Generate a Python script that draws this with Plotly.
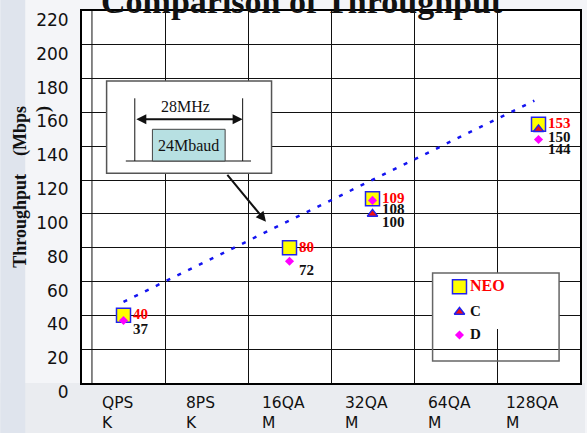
import plotly.graph_objects as go

# ---- data -----------------------------------------------------------------
categories = ["QPSK", "8PSK", "16QAM", "32QAM", "64QAM", "128QAM"]
category_labels = ["QPS<br>K", "8PS<br>K", "16QA<br>M", "32QA<br>M", "64QA<br>M", "128QA<br>M"]
y_ticks = list(range(0, 221, 20))

neo_mod = ["QPSK", "16QAM", "32QAM", "128QAM"]
neo_val = [40, 80, 109, 153]

c_mod = ["32QAM", "128QAM"]
c_val = [100, 150]

d_mod = ["QPSK", "16QAM", "32QAM", "128QAM"]
d_val = [37, 72, 108, 144]

# dotted trend guide (category position, Mbps)
trend_pos = [0.0, 4.95]
trend_val = [48, 167]

# ---- geometry ---------------------------------------------------------------
W, H = 587, 433
PL, PR, PT, PB = 82, 582, 11, 383  # plot area edges in pixels


def fx(px):
    return (px - PL) / (PR - PL)


def fy(py):
    return (PB - py) / (PB - PT)


idx = {c: i for i, c in enumerate(categories)}
SERIF = "Liberation Serif"
SANS = "DejaVu Sans"
BLUE_EDGE = "#2222ee"

fig = go.Figure()

fig.add_trace(go.Scatter(
    x=trend_pos, y=trend_val, mode="lines",
    line=dict(color="#1414f0", width=2.5, dash="4px,8px"),
    hoverinfo="skip", showlegend=False))

fig.add_trace(go.Scatter(
    x=[idx[m] for m in neo_mod], y=neo_val, mode="markers", name="NEO",
    marker=dict(symbol="square", size=14, color="#ffff00",
                line=dict(color=BLUE_EDGE, width=1.5)),
    showlegend=False))

fig.add_trace(go.Scatter(
    x=[idx[m] for m in c_mod], y=c_val, mode="markers", name="C",
    marker=dict(symbol="triangle-up", size=9, color="#ee1111",
                line=dict(color=BLUE_EDGE, width=1.5)),
    showlegend=False))

fig.add_trace(go.Scatter(
    x=[idx[m] for m in d_mod], y=d_val, mode="markers", name="D",
    marker=dict(symbol="diamond", size=7, color="#ff00ff", line=dict(width=0)),
    showlegend=False))

# ---- legend box drawn in pixel space (overlay axes) -------------------------
LG = dict(x0=434, x1=561, y0=273, y1=361, fill_bottom=329)
fig.add_trace(go.Scatter(
    x=[LG["x0"], LG["x1"], LG["x1"], LG["x0"], LG["x0"]],
    y=[LG["y0"], LG["y0"], LG["fill_bottom"], LG["fill_bottom"], LG["y0"]],
    mode="lines", fill="toself", fillcolor="white", line=dict(width=0),
    xaxis="x2", yaxis="y2", hoverinfo="skip", showlegend=False))

legend_items = [
    ("NEO", 286.7, dict(symbol="square", size=14, color="#ffff00",
                         line=dict(color=BLUE_EDGE, width=1.5)), "#ff0000", 16),
    ("C", 312, dict(symbol="triangle-up", size=9, color="#ee1111",
                    line=dict(color=BLUE_EDGE, width=1.5)), "#111111", 15),
    ("D", 335, dict(symbol="diamond", size=7, color="#ff00ff", line=dict(width=0)),
     "#111111", 15),
]
for name, ly, mk, tcol, tsize in legend_items:
    fig.add_trace(go.Scatter(x=[461], y=[ly], mode="markers", marker=mk,
                             xaxis="x2", yaxis="y2", hoverinfo="skip",
                             showlegend=False))
    fig.add_annotation(x=470, y=ly - 1, xref="x2", yref="y2", text=name,
                       showarrow=False, xanchor="left", yanchor="middle",
                       font=dict(family=SERIF, size=tsize, color=tcol, weight="bold"))

# ---- value labels -----------------------------------------------------------
label_sets = [
    (neo_mod, neo_val, "#ff0000", 1),
    (c_mod, c_val, "#111111", -8),
    (d_mod, d_val, "#111111", -9),
]
for mods, vals, col, dy in label_sets:
    for m, v in zip(mods, vals):
        fig.add_annotation(x=idx[m], y=v, xref="x", yref="y", text=str(v),
                           showarrow=False, xanchor="left", yanchor="middle",
                           xshift=7, yshift=dy,
                           font=dict(family=SERIF, size=15, color=col, weight="bold"))

# ---- category labels --------------------------------------------------------
for i, lab in enumerate(category_labels):
    fig.add_annotation(x=i, y=0, xref="x", yref="paper", text=lab,
                       showarrow=False, xanchor="center", yanchor="top",
                       xshift=-6, yshift=-9, align="left",
                       font=dict(family=SANS, size=15.5, color="#111111"))

# ---- titles -----------------------------------------------------------------
fig.add_annotation(x=fx(303), y=1, xref="paper", yref="paper",
                   text="Comparison of Throughput", showarrow=False,
                   xanchor="center", yanchor="bottom", yshift=-11,
                   font=dict(family=SERIF, size=34, color="#111111", weight="bold"))

fig.add_annotation(x=fx(7), y=fy(186.5), xref="paper", yref="paper",
                   text="Throughput\u2003(Mbps<br>)", textangle=-90, align="right",
                   showarrow=False, xanchor="left", yanchor="middle",
                   font=dict(family=SERIF, size=18, color="#111111", weight="bold"))

# ---- bandwidth inset --------------------------------------------------------
shapes = [
    # background bands of the page
    dict(type="rect", xref="paper", yref="paper", x0=fx(0), x1=fx(W), y0=fy(H), y1=fy(PB),
         fillcolor="#eaecf0", line=dict(width=0), layer="below"),
    dict(type="rect", xref="paper", yref="paper", x0=fx(0), x1=fx(25), y0=fy(H), y1=fy(0),
         fillcolor="#dfe4ed", line=dict(width=0), layer="below"),
    # old axis line just inside the frame
    dict(type="line", xref="x2", yref="y2", x0=92, x1=92, y0=PT, y1=PB,
         line=dict(color="#111111", width=1)),
    # inset frame
    dict(type="rect", xref="x2", yref="y2", x0=106.7, x1=272.3, y0=81, y1=173.3,
         fillcolor="white", line=dict(color="#555555", width=1.5)),
    dict(type="line", xref="x2", yref="y2", x0=135, x1=135, y0=98.3, y1=161,
         line=dict(color="#111111", width=1)),
    dict(type="line", xref="x2", yref="y2", x0=243.3, x1=243.3, y0=98.3, y1=161,
         line=dict(color="#111111", width=1)),
    dict(type="line", xref="x2", yref="y2", x0=126, x1=251.7, y0=161, y1=161,
         line=dict(color="#111111", width=1)),
    dict(type="rect", xref="x2", yref="y2", x0=152.7, x1=225.7, y0=129.3, y1=161,
         fillcolor="#b7e0e2", line=dict(color="#444444", width=1)),
    # legend border
    dict(type="rect", xref="x2", yref="y2", x0=LG["x0"], x1=LG["x1"], y0=LG["y0"], y1=LG["y1"],
         fillcolor="rgba(0,0,0,0)", line=dict(color="#666666", width=1.5)),
]

fig.add_annotation(x=186, y=106.7, xref="x2", yref="y2", text="28MHz", showarrow=False,
                   font=dict(family=SERIF, size=16, color="#111111"))
fig.add_annotation(x=189, y=145.7, xref="x2", yref="y2", text="24Mbaud", showarrow=False,
                   font=dict(family=SERIF, size=16, color="#111111"))
fig.add_annotation(x=243.3, y=119.3, ax=135, ay=119.3, xref="x2", yref="y2",
                   axref="x2", ayref="y2", text="", showarrow=True,
                   arrowside="end+start", arrowhead=2, arrowsize=1, arrowwidth=2,
                   arrowcolor="#111111", standoff=0, startstandoff=0)
fig.add_annotation(x=266.7, y=221.7, ax=226.7, ay=173.3, xref="x2", yref="y2",
                   axref="x2", ayref="y2", text="", showarrow=True,
                   arrowhead=2, arrowsize=1, arrowwidth=2, arrowcolor="#111111",
                   standoff=0)

fig.update_layout(
    width=W, height=H,
    margin=dict(l=PL, r=W - PR, t=PT, b=H - PB, pad=0),
    paper_bgcolor="#f4f5f8",
    plot_bgcolor="white",
    shapes=shapes,
    showlegend=False,
    xaxis=dict(range=[-0.5, 5.5], tickvals=[i + 0.5 for i in range(5)],
               showticklabels=False, ticks="", showgrid=True,
               gridcolor="#111111", gridwidth=1, zeroline=False,
               showline=True, linecolor="#000000", linewidth=2, mirror=True),
    yaxis=dict(range=[0, 220], tickvals=y_ticks, ticks="", showgrid=True,
               gridcolor="#111111", gridwidth=1, zeroline=False,
               showline=True, linecolor="#000000", linewidth=2, mirror=True,
               tickfont=dict(family=SANS, size=17, color="#111111"),
               ticklabelshift=9, ticklabelstandoff=8),
    xaxis2=dict(overlaying="x", range=[PL, PR], visible=False),
    yaxis2=dict(overlaying="y", range=[PB, PT], visible=False),
)

fig.write_html("out.html")
